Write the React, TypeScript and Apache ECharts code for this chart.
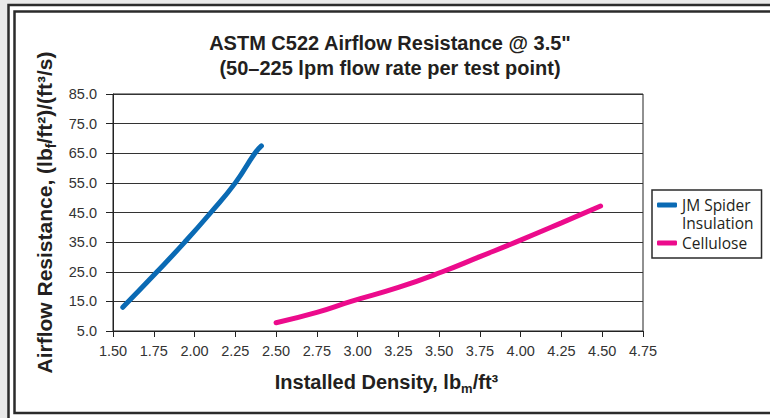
import { useEffect, useRef } from "react";
import * as echarts from "echarts";

const titleText = 'ASTM C522 Airflow Resistance @ 3.5"\n(50–225 lpm flow rate per test point)';
const xAxisName = "Installed Density, lb{sub|m}/ft³";
const yAxisName = "Airflow Resistance, (lb{sub|f}/ft²)/(ft³/s)";
const seriesNames = ["JM Spider Insulation", "Cellulose"];
const legendLabels = ["\nJM Spider\nInsulation", "Cellulose"];

const spiderDensity = [1.56, 1.77, 1.94, 2.1, 2.25, 2.37, 2.41];
const spiderResistance = [13.0, 25.0, 35.0, 45.0, 55.0, 65.0, 67.5];
const celluloseDensity = [2.5, 2.75, 2.96, 3.25, 3.52, 3.75, 3.97, 4.25, 4.49];
const celluloseResistance = [7.8, 11.3, 15.0, 19.7, 25.0, 30.1, 35.0, 41.5, 47.2];

const xMin = 1.5;
const xMax = 4.75;
const xStep = 0.25;
const yMin = 5;
const yMax = 85;
const yStep = 10;

const colors = ["#0a6ab4", "#ec0b8c"];
const HELV = "'Liberation Sans', Arial, sans-serif";

const zip = (xs: number[], ys: number[]) => xs.map((x, i) => [x, ys[i]]);

export default function App() {
  const ref = useRef<HTMLDivElement>(null);
  useEffect(() => {
    const chart = echarts.init(ref.current!, null, { renderer: "svg" });
    const subStyle = (size: number) => ({
      fontSize: size,
      fontWeight: "bold" as const,
      fontFamily: HELV,
      color: "#231f20",
      verticalAlign: "bottom" as const,
      padding: [0, 0, -3, 0],
    });
    const legendText = { fontFamily: "'Open Sans', sans-serif", fontSize: 15.5, color: "#231f20", lineHeight: 18 };
    chart.setOption({
      animation: false,
      backgroundColor: "#ffffff",
      graphic: [
        { type: "rect", z: -10, shape: { x: 0, y: 0, width: 770, height: 418 }, style: { fill: "#e9e9e9" } },
        { type: "rect", z: -9, shape: { x: 8.5, y: 5, width: 800, height: 420 }, style: { fill: "#ffffff", stroke: "#2b2b2b", lineWidth: 2.5 } },
        { type: "rect", z: -8, shape: { x: 14.5, y: 11.5, width: 800, height: 401.5 }, style: { fill: "#ffffff", stroke: "#2b2b2b", lineWidth: 2.5 } },
      ],
      title: {
        text: titleText,
        left: 385,
        top: 25,
        textAlign: "center",
        textStyle: { fontFamily: HELV, fontSize: 20, fontWeight: "bold", color: "#231f20", lineHeight: 25 },
      },
      legend: {
        orient: "vertical",
        left: 652,
        top: 190,
        padding: [-12, 8, 6, 5],
        itemGap: 2,
        itemWidth: 20,
        itemHeight: 5,
        borderColor: "#2b2b2b",
        borderWidth: 1.5,
        icon: "roundRect",
        formatter: (name: string) => legendLabels[seriesNames.indexOf(name)],
        textStyle: legendText,
        data: seriesNames,
      },
      grid: {
        left: 113,
        top: 94,
        width: 530,
        height: 237,
        show: true,
        borderColor: "#222",
        borderWidth: 1,
        backgroundColor: "transparent",
      },
      xAxis: {
        type: "value",
        min: xMin,
        max: xMax,
        interval: xStep,
        name: xAxisName,
        nameLocation: "middle",
        nameGap: 41,
        nameTextStyle: {
          fontFamily: HELV,
          fontSize: 20,
          fontWeight: "bold",
          color: "#231f20",
          padding: [0, 0, 0, 17],
          rich: { sub: subStyle(13) },
        },
        axisLine: { lineStyle: { color: "#222", width: 1 } },
        axisTick: { show: true, length: 6, lineStyle: { color: "#222" } },
        splitLine: { show: false },
        axisLabel: {
          margin: 12,
          fontFamily: HELV,
          fontSize: 14.5,
          color: "#333",
          formatter: (v: number) => v.toFixed(2),
        },
      },
      yAxis: {
        type: "value",
        min: yMin,
        max: yMax,
        interval: yStep,
        name: yAxisName,
        nameLocation: "middle",
        nameRotate: 90,
        nameGap: 57,
        nameTextStyle: {
          fontFamily: HELV,
          fontSize: 21,
          fontWeight: "bold",
          color: "#231f20",
          rich: { sub: subStyle(14) },
        },
        axisLine: { show: true, lineStyle: { color: "#222", width: 1 } },
        axisTick: { show: true, length: 7, lineStyle: { color: "#222" } },
        splitLine: { show: true, lineStyle: { color: "#333", width: 1 } },
        axisLabel: {
          margin: 16,
          fontFamily: HELV,
          fontSize: 14.5,
          color: "#333",
          formatter: (v: number) => v.toFixed(1),
        },
      },
      series: [
        {
          name: seriesNames[0],
          type: "line",
          smooth: true,
          showSymbol: false,
          symbol: "none",
          data: zip(spiderDensity, spiderResistance),
          lineStyle: { color: colors[0], width: 5, cap: "round" },
          itemStyle: { color: colors[0] },
        },
        {
          name: seriesNames[1],
          type: "line",
          smooth: true,
          showSymbol: false,
          symbol: "none",
          data: zip(celluloseDensity, celluloseResistance),
          lineStyle: { color: colors[1], width: 5, cap: "round" },
          itemStyle: { color: colors[1] },
        },
      ],
    });
    return () => chart.dispose();
  }, []);
  return <div ref={ref} style={{ position: "fixed", left: 0, top: 0, width: 770, height: 418 }} />;
}
